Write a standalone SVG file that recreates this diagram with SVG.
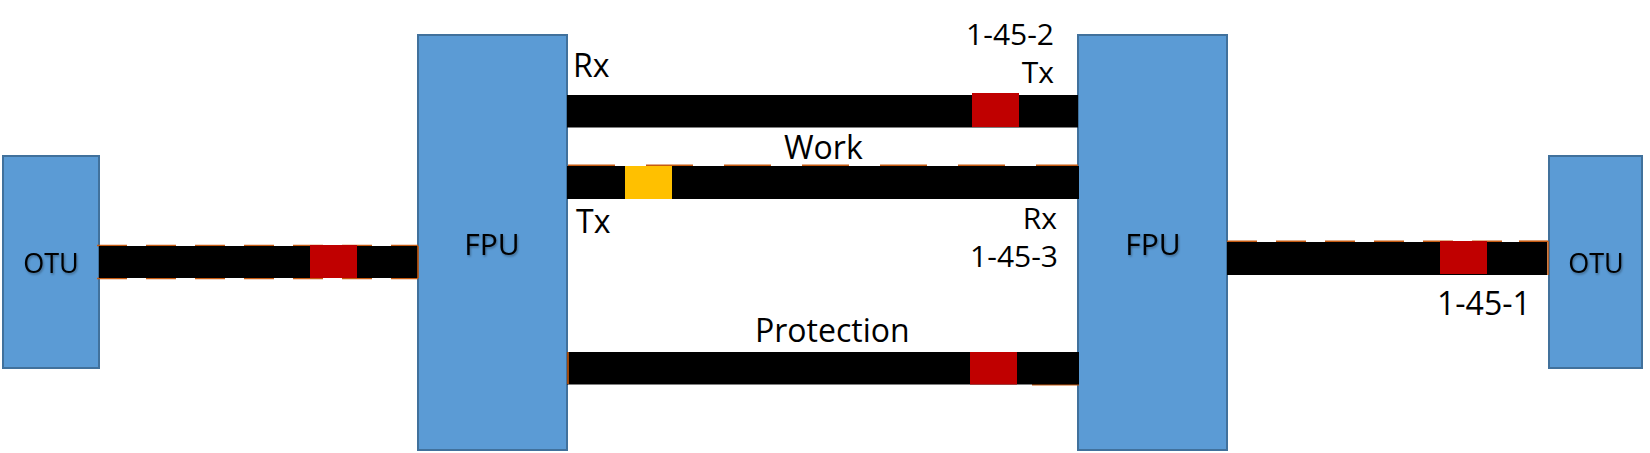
<svg xmlns="http://www.w3.org/2000/svg" width="1650" height="453" viewBox="0 0 1650 453">
  <defs>
    <filter id="shadow" x="-20%" y="-20%" width="140%" height="140%">
      <feDropShadow dx="1" dy="1.5" stdDeviation="0.8" flood-color="#000" flood-opacity="0.35"/>
    </filter>
  </defs>
  <style>
    .box { fill: #5B9BD5; stroke: #41719C; stroke-width: 2; }
    .lbl { font-family: "Open Sans", "Liberation Sans", sans-serif; font-size: 32px; fill: #000; }
    .sm { font-size: 30px; }
    .nlbl { font-family: "Open Sans", "Liberation Sans", sans-serif; fill: #000; text-anchor: middle; filter: url(#shadow); }
    .bar { fill: #000; }
    .red { fill: #C00000; }
    .yel { fill: #FFC000; }
    .edge { stroke: #C55A11; stroke-width: 1.6; fill: none; }
    .d1 { stroke-dasharray: 30 19; }
    .d2 { stroke-dasharray: 47 31; }
  </style>

  <g id="otu-left">
    <rect class="box" x="3" y="156" width="96" height="212"/>
    <text class="nlbl" x="51" y="273" font-size="27">OTU</text>
  </g>
  <g id="fpu-left">
    <rect class="box" x="418" y="35" width="149" height="415"/>
    <text class="nlbl" x="492" y="255" font-size="30">FPU</text>
  </g>
  <g id="fpu-right">
    <rect class="box" x="1078" y="35" width="149" height="415"/>
    <text class="nlbl" x="1153" y="255" font-size="30">FPU</text>
  </g>
  <g id="otu-right">
    <rect class="box" x="1549" y="156" width="93" height="212"/>
    <text class="nlbl" x="1596" y="273" font-size="27">OTU</text>
  </g>

  <g id="connectors">
    <g id="link-left">
      <line class="edge d1" x1="97" y1="245.5" x2="418" y2="245.5"/>
      <line class="edge d1" x1="97" y1="278.5" x2="418" y2="278.5"/>
      <rect class="bar" x="99" y="246" width="319" height="32"/>
      <line class="edge" x1="418" y1="246" x2="418" y2="278"/>
      <rect class="red" x="310" y="245" width="47" height="33"/>
    </g>
    <g id="link-work-rx">
      <rect class="bar" x="567" y="95" width="511" height="32.5"/>
      <rect class="red" x="972" y="93" width="47" height="34"/>
    </g>
    <g id="link-work-tx">
      <line class="edge d2" x1="568" y1="165.2" x2="1078" y2="165.2"/>
      <rect class="bar" x="567" y="166" width="512" height="33"/>
      <rect class="yel" x="625" y="166" width="47" height="33"/>
    </g>
    <g id="link-protection">
      <line class="edge" x1="1032" y1="384.6" x2="1079" y2="384.6"/>
      <rect class="bar" x="567" y="352" width="512" height="32.5"/>
      <line class="edge" x1="568" y1="352" x2="568" y2="384"/>
      <rect class="red" x="970" y="352" width="47" height="32.5"/>
    </g>
    <g id="link-right">
      <line class="edge d1" x1="1227" y1="241.2" x2="1519" y2="241.2"/>
      <line class="edge" x1="1519" y1="241.2" x2="1548" y2="241.2"/>
      <rect class="bar" x="1227" y="242" width="320" height="33"/>
      <line class="edge" x1="1548" y1="241" x2="1548" y2="275"/>
      <rect class="red" x="1440" y="241" width="47" height="33"/>
    </g>
  </g>

  <g id="labels">
    <text class="lbl" x="573" y="77">Rx</text>
    <text class="lbl sm" x="1054" y="45" text-anchor="end">1-45-2</text>
    <text class="lbl sm" x="1054" y="83" text-anchor="end">Tx</text>
    <text class="lbl" x="784" y="159">Work</text>
    <text class="lbl" x="576" y="233">Tx</text>
    <text class="lbl sm" x="1057" y="229" text-anchor="end">Rx</text>
    <text class="lbl sm" x="1058" y="267" text-anchor="end">1-45-3</text>
    <text class="lbl" x="755" y="342">Protection</text>
    <text class="lbl" x="1437" y="315">1-45-1</text>
  </g>
</svg>
